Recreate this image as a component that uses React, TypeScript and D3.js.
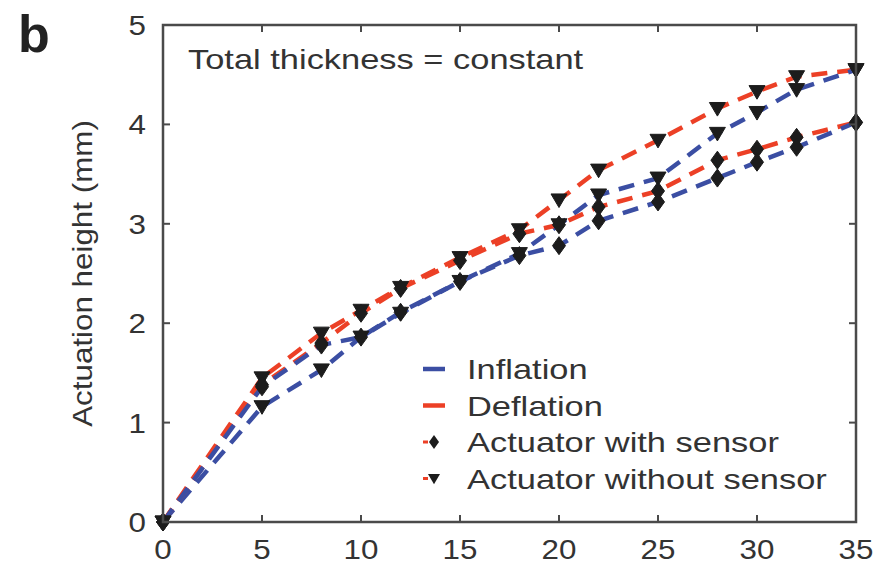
import React from "react";
import * as d3 from "d3";

const xValues = [0, 5, 8, 10, 12, 15, 18, 20, 22, 25, 28, 30, 32, 35];
const sensorInflation = [0, 1.36, 1.78, 1.86, 2.11, 2.42, 2.68, 2.78, 3.03, 3.22, 3.46, 3.62, 3.77, 4.02];
const sensorDeflation = [0, 1.38, 1.8, 2.1, 2.35, 2.63, 2.9, 2.99, 3.17, 3.33, 3.64, 3.75, 3.87, 4.02];
const noSensorInflation = [0, 1.16, 1.53, 1.86, 2.1, 2.42, 2.7, 2.99, 3.29, 3.46, 3.91, 4.12, 4.35, 4.55];
const noSensorDeflation = [0, 1.45, 1.9, 2.13, 2.36, 2.66, 2.94, 3.24, 3.54, 3.84, 4.16, 4.33, 4.48, 4.55];
const xTicks = [0, 5, 10, 15, 20, 25, 30, 35];
const yTicks = [0, 1, 2, 3, 4, 5];
const legendLabels = ["Inflation", "Deflation", "Actuator with sensor", "Actuator without sensor"];

const BLUE = "#3b4ea3";
const RED = "#ec4026";
const AXIS = "#4a4a4a";
const TXT = "#333";
const FONT = "'Liberation Sans', Arial, sans-serif";

const W = 889, H = 578;
const L = 163, R = 856, T = 25, B = 522;
const SX = 1.23; // horizontal stretch of legend/title text
const SXT = 1.12; // stretch of tick labels

export default function App() {
  const x = d3.scaleLinear().domain([0, 35]).range([L, R]);
  const y = d3.scaleLinear().domain([0, 5]).range([B, T]);
  const line = d3.line<[number, number]>().x(d => x(d[0])).y(d => y(d[1]));
  const series = [
    { vals: noSensorDeflation, color: RED, marker: "tri" },
    { vals: noSensorInflation, color: BLUE, marker: "tri" },
    { vals: sensorDeflation, color: RED, marker: "dia" },
    { vals: sensorInflation, color: BLUE, marker: "dia" },
  ];
  const tri = (cx: number, cy: number, s = 8) =>
    `M${cx - s},${cy - s * 0.75}L${cx + s},${cy - s * 0.75}L${cx},${cy + s * 0.95}Z`;
  const dia = (cx: number, cy: number, w = 6.5, h = 9) =>
    `M${cx},${cy - h}L${cx + w},${cy}L${cx},${cy + h}L${cx - w},${cy}Z`;

  const legX = 423, legY0 = 369, legDy = 36.5;
  return (
    <svg width={W} height={H} style={{ display: "block", position: "absolute", left: 0, top: 0 }}>
      <rect x={0} y={0} width={W} height={H} fill="#fff" />
      <text x={18} y={52} fontFamily={FONT} fontWeight="bold" fontSize={52} fill="#222">b</text>
      {series.map((s, i) => (
        <path key={"l" + i} d={line(xValues.map((v, j) => [v, s.vals[j]]) as [number, number][]) || ""}
          fill="none" stroke={s.color} strokeWidth={4.5} strokeDasharray="16 10" />
      ))}
      {series.map((s, i) => (
        <g key={"m" + i}>
          {xValues.map((v, j) => (
            <path key={j} d={s.marker === "tri" ? tri(x(v), y(s.vals[j])) : dia(x(v), y(s.vals[j]))}
              fill="#1c1c1c" stroke="#1c1c1c" strokeWidth={1} />
          ))}
        </g>
      ))}
      <rect x={L} y={T} width={R - L} height={B - T} fill="none" stroke={AXIS} strokeWidth={2.5} />
      {xTicks.map(t => (
        <g key={"xt" + t}>
          <line x1={x(t)} x2={x(t)} y1={B} y2={B - 7} stroke={AXIS} strokeWidth={2} />
          <line x1={x(t)} x2={x(t)} y1={T} y2={T + 7} stroke={AXIS} strokeWidth={2} />
          <text transform={`translate(${x(t)},${B + 37}) scale(${SXT},1)`} textAnchor="middle"
            fontFamily={FONT} fontSize={28} fill={TXT}>{t}</text>
        </g>
      ))}
      {yTicks.map(t => (
        <g key={"yt" + t}>
          <line x1={L} x2={L + 7} y1={y(t)} y2={y(t)} stroke={AXIS} strokeWidth={2} />
          <line x1={R} x2={R - 7} y1={y(t)} y2={y(t)} stroke={AXIS} strokeWidth={2} />
          <text transform={`translate(146,${y(t) + 10}) scale(${SXT},1)`} textAnchor="end"
            fontFamily={FONT} fontSize={28} fill={TXT}>{t}</text>
        </g>
      ))}
      <text transform={`translate(92,${(T + B) / 2}) rotate(-90) scale(1.12,1)`} textAnchor="middle"
        fontFamily={FONT} fontSize={28} fill={TXT}>Actuation height (mm)</text>
      <text transform={`translate(188,69) scale(${SX},1)`} fontFamily={FONT} fontSize={28} fill={TXT}>
        Total thickness = constant
      </text>
      {legendLabels.map((lab, i) => {
        const ly = legY0 + i * legDy;
        return (
          <g key={"lg" + i}>
            {i === 0 && <line x1={legX} x2={legX + 22} y1={ly} y2={ly} stroke={BLUE} strokeWidth={4.5} />}
            {i === 1 && <line x1={legX} x2={legX + 22} y1={ly} y2={ly} stroke={RED} strokeWidth={4.5} />}
            {i === 2 && (
              <g>
                <line x1={legX} x2={legX + 5} y1={ly} y2={ly} stroke={RED} strokeWidth={3} />
                <path d={dia(legX + 11, ly, 5, 7)} fill="#1c1c1c" />
              </g>
            )}
            {i === 3 && (
              <g>
                <line x1={legX} x2={legX + 5} y1={ly} y2={ly} stroke={RED} strokeWidth={3} />
                <path d={tri(legX + 11, ly, 6)} fill="#1c1c1c" />
              </g>
            )}
            <text transform={`translate(467,${ly + 10}) scale(${SX},1)`} fontFamily={FONT} fontSize={28} fill={TXT}>{lab}</text>
          </g>
        );
      })}
    </svg>
  );
}
